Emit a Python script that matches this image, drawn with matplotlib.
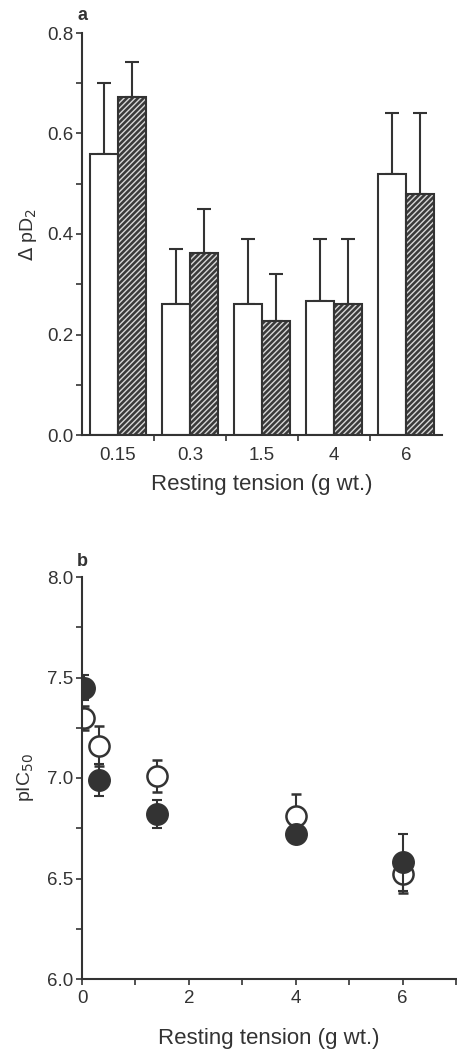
import numpy as np
import matplotlib
matplotlib.use("Agg")
import matplotlib.pyplot as plt
from matplotlib.ticker import MultipleLocator

plt.rcParams['font.family'] = ['Liberation Sans', 'DejaVu Sans']
plt.rcParams['hatch.linewidth'] = 1.0

INK = '#333333'

# panel a: change in pD2 at each resting tension
tensions = ['0.15', '0.3', '1.5', '4', '6']
open_vals = [0.56, 0.26, 0.26, 0.267, 0.52]
open_err = [0.14, 0.11, 0.13, 0.123, 0.12]
hatch_vals = [0.672, 0.362, 0.227, 0.26, 0.48]
hatch_err = [0.07, 0.088, 0.093, 0.13, 0.16]

# panel b: pIC50 against resting tension
x_b = [0.03, 0.32, 1.4, 4.0, 6.0]
open_pic = [7.30, 7.16, 7.01, 6.81, 6.52]
open_pic_err = [0.06, 0.10, 0.08, 0.11, 0.09]
filled_pic = [7.45, 6.99, 6.82, 6.72, 6.58]
filled_pic_err = [0.06, 0.08, 0.07, 0.04, 0.14]

fig = plt.figure(figsize=(4.57, 10.52), dpi=100)

# ---- panel a ----
ax = fig.add_axes([82/457, 1-435/1052, 360/457, 402/1052])
idx = np.arange(len(tensions))
w = 0.385
xo = idx - w/2
xh = idx + w/2
ax.bar(xo, open_vals, width=w, color='white', edgecolor=INK, linewidth=1.5, zorder=2)
ax.bar(xh, hatch_vals, width=w, color='#3a3a3a', edgecolor='#d8d8d8',
       hatch='//////', linewidth=0, zorder=2)
ax.bar(xh, hatch_vals, width=w, color='none', edgecolor=INK, linewidth=1.5, zorder=3)
ax.errorbar(xo, open_vals, yerr=[np.zeros(5), open_err], fmt='none',
            ecolor=INK, elinewidth=1.5, capsize=5, capthick=1.5, zorder=1)
ax.errorbar(xh, hatch_vals, yerr=[np.zeros(5), hatch_err], fmt='none',
            ecolor=INK, elinewidth=1.5, capsize=5, capthick=1.5, zorder=1)
ax.set_xlim(-0.5, 4.5)
ax.set_ylim(0, 0.8)
ax.set_xticks(idx)
ax.set_xticklabels(tensions)
ax.set_xticks(idx[:-1] + 0.5, minor=True)
ax.tick_params(axis='x', which='major', length=0, pad=9)
ax.tick_params(axis='x', which='minor', length=4, width=1.2, color=INK)
ax.yaxis.set_major_locator(MultipleLocator(0.2))
ax.yaxis.set_minor_locator(MultipleLocator(0.1))
ax.yaxis.set_major_formatter(plt.FuncFormatter(lambda v, p: f'{v:.1f}'))
ax.tick_params(axis='y', which='major', length=4, width=1.2, color=INK, pad=2)
ax.tick_params(axis='y', which='minor', length=4, width=1.2, color=INK)
ax.tick_params(labelsize=13.5, labelcolor=INK)
for s in ['top', 'right']:
    ax.spines[s].set_visible(False)
for s in ['left', 'bottom']:
    ax.spines[s].set_linewidth(1.5)
    ax.spines[s].set_color(INK)
ax.set_xlabel('Resting tension (g wt.)', fontsize=16, color=INK, labelpad=7)
ax.set_ylabel(r'$\Delta$ pD$_2$', fontsize=14, color=INK, labelpad=6)
fig.text(82/457, 1-15/1052, 'a', fontsize=13, fontweight='bold', color=INK,
         ha='center', va='center')

# ---- panel b ----
bx = fig.add_axes([82/457, 1-979/1052, 374/457, 402/1052])
bx.errorbar(x_b, filled_pic, yerr=filled_pic_err, fmt='o', color=INK, mfc='#333333',
            mec=INK, ms=15.5, elinewidth=1.5, capsize=3.5, capthick=1.5, zorder=3)
bx.errorbar(x_b, open_pic, yerr=open_pic_err, fmt='o', color=INK, mfc='white',
            mec=INK, mew=1.8, ms=14.5, elinewidth=1.5, capsize=3.5, capthick=1.5, zorder=2)
bx.set_xlim(0, 7)
bx.set_ylim(6.0, 8.0)
bx.xaxis.set_major_locator(MultipleLocator(2))
bx.xaxis.set_minor_locator(MultipleLocator(1))
bx.yaxis.set_major_locator(MultipleLocator(0.5))
bx.yaxis.set_minor_locator(MultipleLocator(0.25))
bx.yaxis.set_major_formatter(plt.FuncFormatter(lambda v, p: f'{v:.1f}'))
bx.tick_params(which='both', length=4, width=1.2, color=INK, labelsize=13.5,
               labelcolor=INK)
bx.tick_params(axis='x', pad=4)
bx.tick_params(axis='y', pad=2)
for s in ['top', 'right']:
    bx.spines[s].set_visible(False)
for s in ['left', 'bottom']:
    bx.spines[s].set_linewidth(1.5)
    bx.spines[s].set_color(INK)
bx.set_xlabel('Resting tension (g wt.)', fontsize=16, color=INK, labelpad=15)
bx.set_ylabel(r'pIC$_{50}$', fontsize=14, color=INK, labelpad=8)
fig.text(82/457, 1-562/1052, 'b', fontsize=13, fontweight='bold', color=INK,
         ha='center', va='center')

fig.savefig('out.png', dpi=100)
